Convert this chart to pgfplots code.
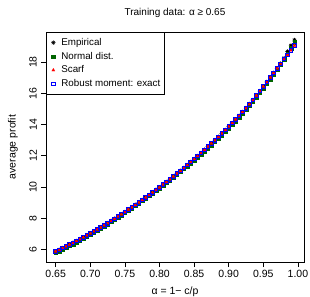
\documentclass[border=0pt]{standalone}
\usepackage{pgfplots}
\pgfplotsset{compat=1.18}
\usepackage{pgfplotstable}
\usepackage{fontspec}
\setmainfont{Liberation Sans}
\definecolor{rdarkgreen}{RGB}{0,100,0}
\pgfdeclareplotmark{rast}{%
  \pgfpathmoveto{\pgfqpoint{-\pgfplotmarksize}{0pt}}\pgfpathlineto{\pgfqpoint{\pgfplotmarksize}{0pt}}%
  \pgfpathmoveto{\pgfqpoint{0pt}{-\pgfplotmarksize}}\pgfpathlineto{\pgfqpoint{0pt}{\pgfplotmarksize}}%
  \pgfpathmoveto{\pgfqpoint{-0.707\pgfplotmarksize}{-0.707\pgfplotmarksize}}\pgfpathlineto{\pgfqpoint{0.707\pgfplotmarksize}{0.707\pgfplotmarksize}}%
  \pgfpathmoveto{\pgfqpoint{-0.707\pgfplotmarksize}{0.707\pgfplotmarksize}}\pgfpathlineto{\pgfqpoint{0.707\pgfplotmarksize}{-0.707\pgfplotmarksize}}%
  \pgfusepathqstroke}
\pgfplotsset{rleg/.style={legend image code/.code={\path[draw=none,fill=none] (0bp,0bp) -- (11bp,0bp);\draw[mark repeat=2,mark phase=2,##1,only marks] plot[only marks] coordinates {(0bp,0bp) (5bp,0bp) (10bp,0bp)};}}}
\pgfplotstableread{
x emp norm scarf robust
0.650 5.880 5.800 5.880 5.880
0.655 5.985 5.905 5.985 5.985
0.660 6.092 6.012 6.092 6.092
0.665 6.201 6.121 6.201 6.201
0.670 6.313 6.233 6.313 6.313
0.675 6.427 6.347 6.427 6.427
0.680 6.543 6.463 6.543 6.543
0.685 6.661 6.581 6.661 6.661
0.690 6.782 6.702 6.782 6.782
0.695 6.905 6.830 6.905 6.905
0.700 7.030 6.960 7.030 7.030
0.705 7.157 7.090 7.157 7.157
0.710 7.287 7.225 7.287 7.287
0.715 7.419 7.360 7.419 7.419
0.720 7.553 7.495 7.553 7.553
0.725 7.689 7.635 7.689 7.689
0.730 7.828 7.775 7.828 7.828
0.735 7.968 7.918 7.968 7.968
0.740 8.111 8.061 8.111 8.111
0.745 8.255 8.205 8.255 8.255
0.750 8.402 8.352 8.402 8.402
0.755 8.550 8.500 8.550 8.550
0.760 8.701 8.651 8.701 8.701
0.765 8.853 8.803 8.853 8.853
0.770 9.008 8.958 9.008 9.008
0.775 9.164 9.114 9.164 9.164
0.780 9.323 9.273 9.323 9.323
0.785 9.484 9.434 9.484 9.484
0.790 9.647 9.597 9.647 9.647
0.795 9.812 9.762 9.812 9.812
0.800 9.980 9.930 9.980 9.980
0.805 10.150 10.100 10.150 10.150
0.810 10.322 10.272 10.322 10.322
0.815 10.496 10.446 10.496 10.496
0.820 10.673 10.623 10.673 10.673
0.825 10.852 10.802 10.852 10.852
0.830 11.033 10.983 11.033 11.033
0.835 11.217 11.167 11.217 11.217
0.840 11.404 11.344 11.404 11.404
0.845 11.594 11.524 11.594 11.594
0.850 11.786 11.706 11.786 11.786
0.855 11.981 11.891 11.981 11.981
0.860 12.179 12.079 12.179 12.179
0.865 12.380 12.280 12.380 12.380
0.870 12.583 12.483 12.583 12.583
0.875 12.789 12.689 12.789 12.789
0.880 12.998 12.898 12.998 12.998
0.885 13.211 13.111 13.211 13.211
0.890 13.427 13.327 13.427 13.427
0.895 13.647 13.547 13.647 13.647
0.900 13.870 13.770 13.870 13.870
0.905 14.097 13.997 14.097 14.097
0.910 14.327 14.227 14.327 14.327
0.915 14.561 14.461 14.561 14.561
0.920 14.800 14.700 14.800 14.800
0.925 15.045 14.945 15.045 15.045
0.930 15.300 15.200 15.300 15.300
0.935 15.570 15.460 15.570 15.570
0.940 15.850 15.740 15.850 15.850
0.945 16.140 16.030 16.140 16.140
0.950 16.430 16.320 16.430 16.430
0.955 16.720 16.610 16.720 16.720
0.960 17.010 16.900 17.010 17.010
0.965 17.300 17.200 17.300 17.300
0.970 17.590 17.510 17.590 17.590
0.975 17.900 17.840 17.890 17.890
0.980 18.250 18.170 18.190 18.190
0.985 18.670 18.520 18.460 18.460
0.990 19.050 18.880 18.740 18.740
0.995 19.400 19.270 19.050 19.050
}\datatable
\begin{document}
\begin{tikzpicture}
\path[use as bounding box] (-46bp,-35bp) rectangle (264bp,262bp);
\begin{axis}[
  name=ax,
  at={(0,0)}, anchor=south west,
  scale only axis, width=258bp, height=230bp,
  xmin=0.636, xmax=1.0088, ymin=5.2, ymax=19.92,
  axis line style={line width=0.7bp},
  xtick={0.65,0.70,...,1.001},
  ytick={6,8,...,18},
  xtick pos=bottom, ytick pos=left,
  tick align=outside, major tick length=5bp,
  tick style={line width=0.6bp, black},
  /pgf/number format/assume math mode=true,
  xticklabel style={/pgf/number format/fixed, /pgf/number format/fixed zerofill, /pgf/number format/precision=2, font=\fontsize{10.5bp}{12bp}\selectfont},
  yticklabel style={rotate=90, anchor=south, inner sep=0pt, font=\fontsize{10.5bp}{12bp}\selectfont},
  yticklabel shift=4bp,
  legend style={at={(0,1)}, anchor=north west, draw=black, line width=0.7bp,
    font=\fontsize{9.8bp}{11bp}\selectfont, row sep=1.2bp, inner xsep=2bp, inner ysep=4bp},
  legend cell align=left,
]
\addplot[only marks, mark=rast, mark size=2.2bp, black, line width=0.6bp, rleg] table[x=x, y=emp] {\datatable};
\addlegendentry{Empirical}
\addplot[only marks, mark=square*, mark size=1.7bp, rdarkgreen, line width=0.3bp, rleg] table[x=x, y=norm] {\datatable};
\addlegendentry{Normal dist.}
\addplot[only marks, mark=triangle*, mark size=1.9bp, red, line width=0.2bp, rleg] table[x=x, y=scarf] {\datatable};
\addlegendentry{Scarf}
\addplot[only marks, mark=square, mark size=1.8bp, blue, line width=0.8bp, rleg] table[x=x, y=robust] {\datatable};
\addlegendentry{Robust moment: exact}
\end{axis}
\node[font=\fontsize{10bp}{12bp}\selectfont, anchor=center] at ([yshift=19.3bp]ax.north) {Training data: α ≥ 0.65};
\node[font=\fontsize{10.5bp}{12bp}\selectfont, anchor=center] at ([yshift=-29.7bp]ax.south) {α = 1− c/p};
\node[font=\fontsize{10.5bp}{12bp}\selectfont, anchor=center, rotate=90] at ([xshift=-33bp]ax.west) {average profit};
\end{tikzpicture}
\end{document}
